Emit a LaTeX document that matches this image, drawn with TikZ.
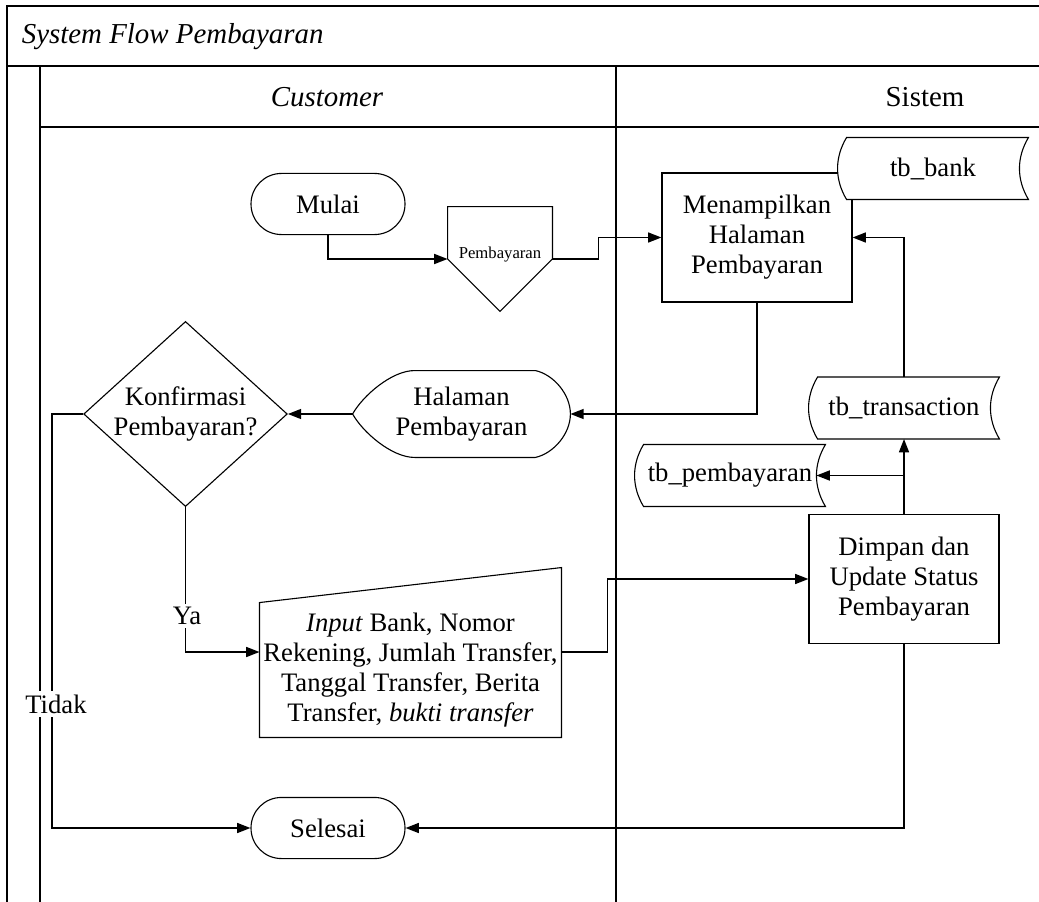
\documentclass[tikz,border=0pt]{standalone}
\usepackage{fontspec}
\setmainfont{Liberation Serif}
\usetikzlibrary{arrows.meta,calc,shapes.geometric}

\newcommand{\storeline}[1]{%
  \draw[line width=0.5pt] ($(#1.north west)+(9,0)$) -- (#1.north east)
    .. controls ($(#1.north east)+(-12,20)$) and ($(#1.south east)+(-12,-20)$) .. (#1.south east)
    -- ($(#1.south west)+(9,0)$)
    .. controls ($(#1.south west)+(-3,-20)$) and ($(#1.north west)+(-3,20)$) .. cycle;}

\begin{document}
\begin{tikzpicture}[
  x=0.45pt, y=-0.45pt,
  every node/.style={font=\fontsize{12}{13.5}\selectfont},
  lane/.style={line width=0.9pt},
  term/.style={draw, line width=0.5pt, rounded corners=13.7pt, minimum width=69.3pt, minimum height=27.5pt},
  proc/.style={draw, line width=0.5pt, minimum width=85.5pt, minimum height=58pt, align=center},
  store/.style={fill=white, minimum width=85.5pt, minimum height=27.5pt, inner sep=0pt},
  dec/.style={draw, diamond, line width=0.5pt, aspect=1.1, minimum width=90pt, minimum height=82pt, inner sep=0pt, align=center},
  lbl/.style={fill=white, inner sep=1.5pt},
  arrow/.style={-{Triangle[length=6pt,width=4.5pt]}, line width=0.7pt}
]
\useasboundingbox (0,0) rectangle (1039,902);
\draw[lane] (1060,6) -- (7,6) -- (7,950);
\draw[lane] (7,66) -- (1060,66);
\draw[lane] (40,66) -- (40,950);
\draw[lane] (40,127) -- (1060,127);
\draw[lane] (616,66) -- (616,950);
\node[anchor=west, font=\fontsize{13}{15}\selectfont\itshape] (title) at (14,37) {System Flow Pembayaran};
\node[font=\fontsize{13}{15}\selectfont\itshape] (cust) at (327,97) {Customer};
\node[font=\fontsize{13}{15}\selectfont] (sis) at (925,97) {Sistem};

\node[term] (mulai) at (328,204) {Mulai};
\node[minimum width=46.8pt, minimum height=46.8pt, inner sep=0pt, font=\fontsize{7.5}{9}\selectfont] (pay) at (500,259) {\raisebox{5.4pt}{Pembayaran}};
\draw[line width=0.5pt] (pay.north west) -- (pay.north east) -- (pay.east) -- (pay.south) -- (pay.west) -- cycle;
\node[proc] (men) at (757,237.5) {Menampilkan\\Halaman\\Pembayaran};
\node[store] (bank) at (933,168.5) {tb\_bank};
\storeline{bank}
\node[minimum width=97.6pt, minimum height=38.7pt, align=center] (hal) at (461.5,414) {Halaman\\Pembayaran};
\draw[line width=0.5pt] (hal.west) .. controls ($(hal.west)+(10,-18)$) and ($(hal.north west)+(39,0)$) .. ($(hal.north west)+(62,0)$)
  -- ($(hal.north east)+(-35,0)$)
  .. controls ($(hal.north east)+(-17,4)$) and ($(hal.east)+(0,-20)$) .. (hal.east)
  .. controls ($(hal.east)+(0,20)$) and ($(hal.south east)+(-17,-4)$) .. ($(hal.south east)+(-35,0)$)
  -- ($(hal.south west)+(62,0)$)
  .. controls ($(hal.south west)+(39,0)$) and ($(hal.west)+(10,18)$) .. cycle;
\node[dec] (konf) at (185.5,414) {Konfirmasi\\Pembayaran?};
\node[store] (trans) at (904,408) {tb\_transaction};
\storeline{trans}
\node[store] (tbp) at (730,475.5) {tb\_pembayaran};
\storeline{tbp}
\node[proc] (dim) at (904,579) {Dimpan dan\\Update Status\\Pembayaran};
\node[minimum width=135.5pt, minimum height=60.3pt, inner sep=0pt, align=center] (inp) at (410.5,670) {\textit{Input} Bank, Nomor\\Rekening, Jumlah Transfer,\\Tanggal Transfer, Berita\\Transfer, \textit{bukti transfer}};
\draw[line width=0.5pt] (inp.north west) -- ($(inp.north east)+(0,-35)$) -- (inp.south east) -- (inp.south west) -- cycle;
\node[term] (selesai) at (328,828) {Selesai};

\draw[arrow] (mulai.south) |- (pay.west);
\draw[arrow] (pay.east) -- ++(46,0) |- (men.west);
\draw[arrow] (men.south) |- (hal.east);
\draw[arrow] (hal.west) -- (konf.east);
\draw[arrow] (konf.west) -- ++(-31,0) |- (selesai.west);
\draw[arrow] (konf.south) |- ($(inp.west)+(0,-18)$);
\draw[arrow] ($(inp.east)+(0,-18)$) -- ++(46,0) |- (dim.west);
\draw[arrow] (dim.north) -- (trans.south);
\draw[arrow] (dim.north |- tbp.east) -- ($(tbp.east)+(-9,0)$);
\draw[arrow] (trans.north) |- (men.east);
\draw[arrow] (dim.south) |- (selesai.east);
\node[lbl] (ya) at (187,616) {Ya};
\node[lbl] (tidak) at (56,704) {Tidak};
\end{tikzpicture}
\end{document}
